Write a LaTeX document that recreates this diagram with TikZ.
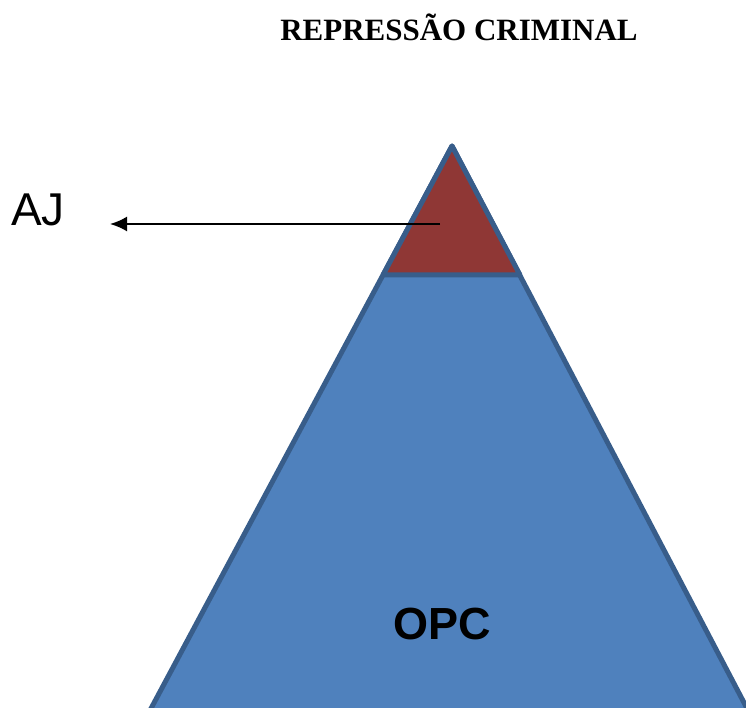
\documentclass[tikz,border=0pt]{standalone}
\usepackage{fontspec}
\setmainfont{Liberation Serif}
\setsansfont{Liberation Sans}
\usepackage{tikz}
\usetikzlibrary{arrows.meta, positioning}
\definecolor{opcblue}{RGB}{79, 129, 189}
\definecolor{ajred}{RGB}{143, 55, 53}
\definecolor{edgeblue}{RGB}{56, 93, 138}

\begin{document}
\begin{tikzpicture}[
    x=1pt, y=-1pt,
    level/.style={draw=edgeblue, line width=5pt, line join=round},
    arrow/.style={-{Latex[length=17pt, width=15pt]}, line width=2.2pt},
    label/.style={font=\sffamily\fontsize{46}{50}\selectfont, inner sep=0pt}
]
    \useasboundingbox (0,0) rectangle (746,708);
    \clip (0,0) rectangle (746,708);

    % Title
    \node[font=\bfseries\fontsize{31}{36}\selectfont, inner sep=0pt] (title) at (459,27) {REPRESSÃO CRIMINAL};

    % Pyramid: base level and top level
    \draw[level, fill=opcblue] (452,146) -- (147,716) -- (751,716) -- cycle;
    \draw[level, fill=ajred] (452,146) -- (383,275) -- (520,275) -- cycle;

    % Labels
    \node[label, font=\sffamily\bfseries\fontsize{45}{50}\selectfont] (opc) at (442,624) {OPC};
    \node[label] (aj) at (38,210) {AJ};

    % Arrow out of the top level
    \coordinate (ajstart) at (440,224);
    \coordinate (ajtip) at (110,224);
    \draw[arrow] (ajstart) -- (ajtip);
\end{tikzpicture}
\end{document}
